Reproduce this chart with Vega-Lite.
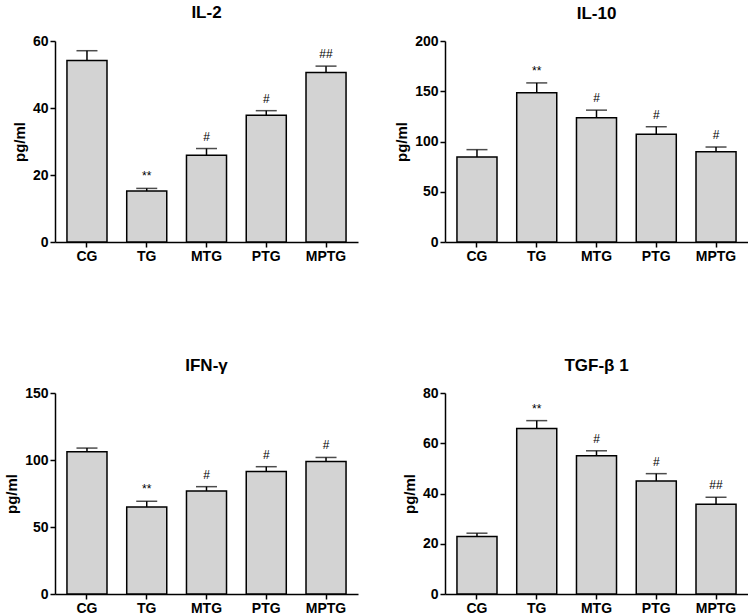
{
  "$schema": "https://vega.github.io/schema/vega-lite/v6.json",
  "padding": {"left": 4, "top": 3, "right": 0, "bottom": 0},
  "background": "white",
  "datasets": {
    "cyt": [
      {"panel": "IL-2", "group": "CG", "mean": 54.2, "err": 57.1, "sig": ""},
      {"panel": "IL-2", "group": "TG", "mean": 15.2, "err": 16.0, "sig": "**"},
      {"panel": "IL-2", "group": "MTG", "mean": 25.9, "err": 27.9, "sig": "#"},
      {"panel": "IL-2", "group": "PTG", "mean": 37.8, "err": 39.2, "sig": "#"},
      {"panel": "IL-2", "group": "MPTG", "mean": 50.6, "err": 52.5, "sig": "##"},
      {"panel": "IL-10", "group": "CG", "mean": 84.6, "err": 91.9, "sig": ""},
      {"panel": "IL-10", "group": "TG", "mean": 148.4, "err": 158.3, "sig": "**"},
      {"panel": "IL-10", "group": "MTG", "mean": 123.6, "err": 131.2, "sig": "#"},
      {"panel": "IL-10", "group": "PTG", "mean": 107.1, "err": 114.7, "sig": "#"},
      {"panel": "IL-10", "group": "MPTG", "mean": 89.9, "err": 94.5, "sig": "#"},
      {"panel": "IFN", "group": "CG", "mean": 106.1, "err": 108.9, "sig": ""},
      {"panel": "IFN", "group": "TG", "mean": 65.0, "err": 69.2, "sig": "**"},
      {"panel": "IFN", "group": "MTG", "mean": 76.9, "err": 80.1, "sig": "#"},
      {"panel": "IFN", "group": "PTG", "mean": 91.5, "err": 95.0, "sig": "#"},
      {"panel": "IFN", "group": "MPTG", "mean": 98.9, "err": 101.9, "sig": "#"},
      {"panel": "TGF", "group": "CG", "mean": 22.9, "err": 24.2, "sig": ""},
      {"panel": "TGF", "group": "TG", "mean": 65.9, "err": 69.0, "sig": "**"},
      {"panel": "TGF", "group": "MTG", "mean": 55.0, "err": 57.0, "sig": "#"},
      {"panel": "TGF", "group": "PTG", "mean": 45.0, "err": 47.9, "sig": "#"},
      {"panel": "TGF", "group": "MPTG", "mean": 35.7, "err": 38.5, "sig": "##"}
    ]
  },
  "data": {"name": "cyt"},
  "columns": 2,
  "spacing": {"row": 94, "column": 36},
  "concat": [
    {
      "title": "IL-2",
      "width": 303, "height": 201,
      "transform": [{"filter": "datum.panel === 'IL-2'"}],
      "encoding": {
        "x": {"field": "group", "type": "nominal", "sort": ["CG", "TG", "MTG", "PTG", "MPTG"], "scale": {"paddingInner": 0.33, "paddingOuter": 0.2}, "axis": {"title": null, "labelAngle": 0}}
      },
      "layer": [
        {"mark": {"type": "bar", "fill": "#d3d3d3", "stroke": "black", "strokeWidth": 1.5},
         "encoding": {"y": {"field": "mean", "type": "quantitative", "title": "pg/ml", "scale": {"domain": [0, 60], "nice": false}, "axis": {"values": [0, 20, 40, 60]}}}},
        {"mark": {"type": "rule", "color": "black", "strokeWidth": 1.5},
         "encoding": {"y": {"field": "mean", "type": "quantitative", "title": "pg/ml"}, "y2": {"field": "err"}}},
        {"mark": {"type": "tick", "orient": "horizontal", "size": 21, "thickness": 1.5, "color": "black"},
         "encoding": {"y": {"field": "err", "type": "quantitative", "title": "pg/ml"}}},
        {"mark": {"type": "text", "baseline": "alphabetic", "dy": -8, "fontSize": 12, "font": "Liberation Sans", "color": "black"},
         "encoding": {"y": {"field": "err", "type": "quantitative", "title": "pg/ml"}, "text": {"field": "sig"}}}
      ]
    },
    {
      "title": "IL-10",
      "width": 303, "height": 201,
      "transform": [{"filter": "datum.panel === 'IL-10'"}],
      "encoding": {
        "x": {"field": "group", "type": "nominal", "sort": ["CG", "TG", "MTG", "PTG", "MPTG"], "scale": {"paddingInner": 0.33, "paddingOuter": 0.2}, "axis": {"title": null, "labelAngle": 0}}
      },
      "layer": [
        {"mark": {"type": "bar", "fill": "#d3d3d3", "stroke": "black", "strokeWidth": 1.5},
         "encoding": {"y": {"field": "mean", "type": "quantitative", "title": "pg/ml", "scale": {"domain": [0, 200], "nice": false}, "axis": {"values": [0, 50, 100, 150, 200]}}}},
        {"mark": {"type": "rule", "color": "black", "strokeWidth": 1.5},
         "encoding": {"y": {"field": "mean", "type": "quantitative", "title": "pg/ml"}, "y2": {"field": "err"}}},
        {"mark": {"type": "tick", "orient": "horizontal", "size": 21, "thickness": 1.5, "color": "black"},
         "encoding": {"y": {"field": "err", "type": "quantitative", "title": "pg/ml"}}},
        {"mark": {"type": "text", "baseline": "alphabetic", "dy": -8, "fontSize": 12, "font": "Liberation Sans", "color": "black"},
         "encoding": {"y": {"field": "err", "type": "quantitative", "title": "pg/ml"}, "text": {"field": "sig"}}}
      ]
    },
    {
      "title": "IFN-γ",
      "width": 303, "height": 201,
      "transform": [{"filter": "datum.panel === 'IFN'"}],
      "encoding": {
        "x": {"field": "group", "type": "nominal", "sort": ["CG", "TG", "MTG", "PTG", "MPTG"], "scale": {"paddingInner": 0.33, "paddingOuter": 0.2}, "axis": {"title": null, "labelAngle": 0}}
      },
      "layer": [
        {"mark": {"type": "bar", "fill": "#d3d3d3", "stroke": "black", "strokeWidth": 1.5},
         "encoding": {"y": {"field": "mean", "type": "quantitative", "title": "pg/ml", "scale": {"domain": [0, 150], "nice": false}, "axis": {"values": [0, 50, 100, 150]}}}},
        {"mark": {"type": "rule", "color": "black", "strokeWidth": 1.5},
         "encoding": {"y": {"field": "mean", "type": "quantitative", "title": "pg/ml"}, "y2": {"field": "err"}}},
        {"mark": {"type": "tick", "orient": "horizontal", "size": 21, "thickness": 1.5, "color": "black"},
         "encoding": {"y": {"field": "err", "type": "quantitative", "title": "pg/ml"}}},
        {"mark": {"type": "text", "baseline": "alphabetic", "dy": -8, "fontSize": 12, "font": "Liberation Sans", "color": "black"},
         "encoding": {"y": {"field": "err", "type": "quantitative", "title": "pg/ml"}, "text": {"field": "sig"}}}
      ]
    },
    {
      "title": "TGF-β 1",
      "width": 303, "height": 201,
      "transform": [{"filter": "datum.panel === 'TGF'"}],
      "encoding": {
        "x": {"field": "group", "type": "nominal", "sort": ["CG", "TG", "MTG", "PTG", "MPTG"], "scale": {"paddingInner": 0.33, "paddingOuter": 0.2}, "axis": {"title": null, "labelAngle": 0}}
      },
      "layer": [
        {"mark": {"type": "bar", "fill": "#d3d3d3", "stroke": "black", "strokeWidth": 1.5},
         "encoding": {"y": {"field": "mean", "type": "quantitative", "title": "pg/ml", "scale": {"domain": [0, 80], "nice": false}, "axis": {"values": [0, 20, 40, 60, 80]}}}},
        {"mark": {"type": "rule", "color": "black", "strokeWidth": 1.5},
         "encoding": {"y": {"field": "mean", "type": "quantitative", "title": "pg/ml"}, "y2": {"field": "err"}}},
        {"mark": {"type": "tick", "orient": "horizontal", "size": 21, "thickness": 1.5, "color": "black"},
         "encoding": {"y": {"field": "err", "type": "quantitative", "title": "pg/ml"}}},
        {"mark": {"type": "text", "baseline": "alphabetic", "dy": -8, "fontSize": 12, "font": "Liberation Sans", "color": "black"},
         "encoding": {"y": {"field": "err", "type": "quantitative", "title": "pg/ml"}, "text": {"field": "sig"}}}
      ]
    }
  ],
  "config": {
    "view": {"stroke": null},
    "axis": {
      "grid": false,
      "domainColor": "black", "domainWidth": 1.5,
      "tickColor": "black", "tickWidth": 1.5, "tickSize": 5,
      "labelFont": "Liberation Sans", "labelFontSize": 14, "labelFontWeight": "bold", "labelColor": "black", "labelPadding": 2,
      "titleFont": "Liberation Sans", "titleFontSize": 15, "titleFontWeight": "bold", "titleColor": "black", "titlePadding": 5
    },
    "title": {"font": "Liberation Sans", "fontSize": 17, "fontWeight": "bold", "color": "black", "anchor": "middle", "offset": 11}
  }
}
